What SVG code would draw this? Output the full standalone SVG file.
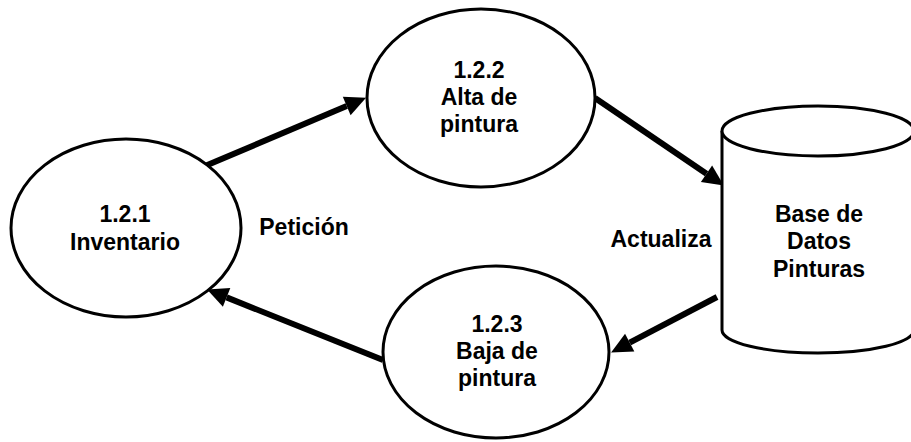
<svg xmlns="http://www.w3.org/2000/svg" width="911" height="442" viewBox="0 0 911 442">
<style>
.shape{fill:#fff;stroke:#000;stroke-width:3}
.t{font-family:"Liberation Sans",Arial,sans-serif;font-weight:bold;font-size:23px;fill:#000;text-anchor:middle}
.flow{stroke:#000;stroke-width:6;fill:none;marker-end:url(#ah)}
</style>
<defs>
<marker id="ah" markerUnits="userSpaceOnUse" markerWidth="21" markerHeight="20" refX="0" refY="10" orient="auto" overflow="visible">
<path d="M0,0 L21,10 L0,20 z" fill="#000"/>
</marker>
</defs>
<rect width="911" height="442" fill="#fff"/>
<g id="connectors">
<line class="flow" x1="205" y1="166" x2="346.7" y2="106"/>
<line class="flow" x1="595" y1="98" x2="706.5" y2="173.8"/>
<line class="flow" x1="717" y1="297" x2="629.7" y2="342.7"/>
<line class="flow" x1="383" y1="360" x2="226.6" y2="297.4"/>
<text class="t" x="304" y="235">Petición</text>
<text class="t" x="661" y="247">Actualiza</text>
</g>
<g id="n121">
<ellipse class="shape" cx="126" cy="228" rx="115" ry="89"/>
<text class="t" x="125" y="222">1.2.1</text>
<text class="t" x="125" y="250">Inventario</text>
</g>
<g id="n122">
<ellipse class="shape" cx="481" cy="98" rx="114" ry="89"/>
<text class="t" x="479" y="78">1.2.2</text>
<text class="t" x="479" y="105">Alta de</text>
<text class="t" x="479" y="132">pintura</text>
</g>
<g id="n123">
<ellipse class="shape" cx="496" cy="352" rx="113" ry="86"/>
<text class="t" x="497" y="332">1.2.3</text>
<text class="t" x="497" y="359">Baja de</text>
<text class="t" x="497" y="386">pintura</text>
</g>
<g id="db">
<path class="shape" d="M722,131 L722,330 A96,23 0 0 0 914,330 L914,131"/>
<ellipse class="shape" cx="818" cy="131" rx="96" ry="25"/>
<text class="t" x="819" y="222">Base de</text>
<text class="t" x="819" y="249">Datos</text>
<text class="t" x="819" y="277">Pinturas</text>
</g>
</svg>
